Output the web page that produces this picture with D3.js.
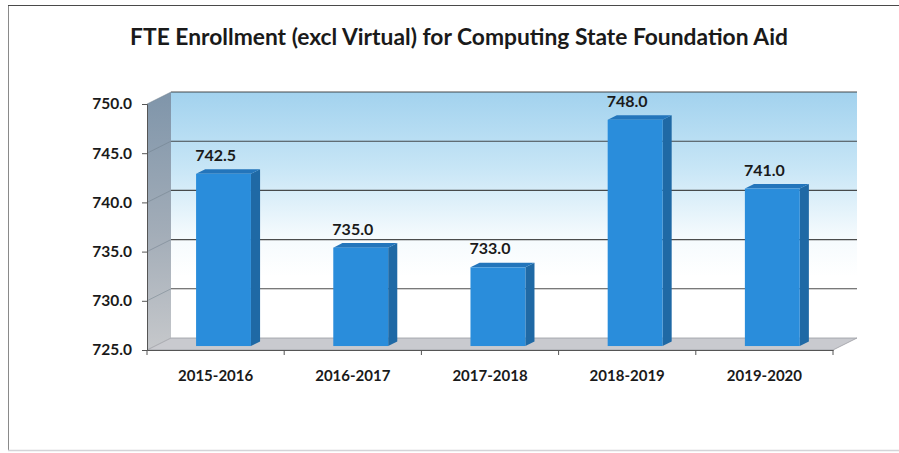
<!DOCTYPE html>
<html>
<head>
<meta charset="utf-8">
<script src="https://cdn.jsdelivr.net/npm/d3@7"></script>
<style>
  html, body { margin: 0; padding: 0; background: #ffffff; }
  svg { display: block; }
  text { font-family: Lato, "Open Sans", sans-serif; fill: #1a1a1a; }
</style>
</head>
<body>
<svg id="chart" width="899" height="453"></svg>
<script>
// Enrollment by school year
const categories = ["2015-2016", "2016-2017", "2017-2018", "2018-2019", "2019-2020"];
const enrollment = [742.5, 735.0, 733.0, 748.0, 741.0];
const yTicks = [725, 730, 735, 740, 745, 750];
const chartTitle = "FTE Enrollment (excl Virtual) for Computing State Foundation Aid";

(function draw() {
const svg = d3.select("#chart");
const W = 899, H = 453;

// Plot box (front plane) and 3D depth offset
const plotL = 147, plotR = 833, plotT = 104, plotB = 350;
const depthX = 24, depthY = -12;
// Bars sit between these fractions of the depth
const barFront = 0.33, barBack = 0.71;

const x = d3.scaleBand().domain(categories).range([plotL, plotR]);
const y = d3.scaleLinear().domain([725, 750]).range([plotB, plotT]);
const fmt = d3.format(".1f");

const defs = svg.append("defs");
const wallGrad = defs.append("linearGradient").attr("id", "wallGrad")
  .attr("x1", 0).attr("y1", 0).attr("x2", 0).attr("y2", 1);
wallGrad.append("stop").attr("offset", "0%").attr("stop-color", "#a2d2ee");
wallGrad.append("stop").attr("offset", "30%").attr("stop-color", "#c6e5f6");
wallGrad.append("stop").attr("offset", "58%").attr("stop-color", "#f4fafd");
wallGrad.append("stop").attr("offset", "75%").attr("stop-color", "#ffffff");

const sideGrad = defs.append("linearGradient").attr("id", "sideGrad")
  .attr("x1", 0).attr("y1", 0).attr("x2", 0).attr("y2", 1);
sideGrad.append("stop").attr("offset", "0%").attr("stop-color", "#7f95aa");
sideGrad.append("stop").attr("offset", "55%").attr("stop-color", "#a3adb8");
sideGrad.append("stop").attr("offset", "100%").attr("stop-color", "#c6c8cb");

// Outer frame
svg.append("rect")
  .attr("x", 8.5).attr("y", 5.5).attr("width", 900).attr("height", 445)
  .attr("fill", "#ffffff").attr("stroke", "#8a8a8a").attr("stroke-width", 1);
svg.append("line").attr("x1", 8).attr("x2", W).attr("y1", 5.5).attr("y2", 5.5)
  .attr("stroke", "#4a4a4a").attr("stroke-width", 1.2);
svg.append("line").attr("x1", 8).attr("x2", W).attr("y1", 450.5).attr("y2", 450.5)
  .attr("stroke", "#d4d4d8").attr("stroke-width", 1.5);

// Title
svg.append("text")
  .attr("x", 459).attr("y", 45)
  .attr("text-anchor", "middle")
  .style("font-size", "22.8px").style("font-weight", "bold")
  .text(chartTitle);

const pt = (px, py) => px + "," + py;

// Back wall
svg.append("polygon")
  .attr("points", [pt(plotL + depthX, plotT + depthY), pt(plotR + depthX, plotT + depthY),
                   pt(plotR + depthX, plotB + depthY), pt(plotL + depthX, plotB + depthY)].join(" "))
  .attr("fill", "url(#wallGrad)");

// Left side wall
svg.append("polygon")
  .attr("points", [pt(plotL, plotT), pt(plotL + depthX, plotT + depthY),
                   pt(plotL + depthX, plotB + depthY), pt(plotL, plotB)].join(" "))
  .attr("fill", "url(#sideGrad)");

// Floor
svg.append("polygon")
  .attr("points", [pt(plotL, plotB), pt(plotR, plotB),
                   pt(plotR + depthX, plotB + depthY), pt(plotL + depthX, plotB + depthY)].join(" "))
  .attr("fill", "#c9cacf").attr("stroke", "#9a9ca2").attr("stroke-width", 0.8);

// Gridlines on back wall and side wall
const grid = svg.append("g");
yTicks.forEach(t => {
  if (t === 725) return;
  grid.append("line")
    .attr("x1", plotL + depthX).attr("x2", plotR + depthX)
    .attr("y1", y(t) + depthY).attr("y2", y(t) + depthY)
    .attr("stroke", "#2e2e2e").attr("stroke-width", 1.1).attr("opacity", 0.85);
  grid.append("line")
    .attr("x1", plotL).attr("x2", plotL + depthX)
    .attr("y1", y(t)).attr("y2", y(t) + depthY)
    .attr("stroke", "#6f7d8a").attr("stroke-width", 0.8).attr("opacity", 0.6);
});

// Bars
const bw = x.bandwidth();
const barW = bw * 0.4;
const fx = depthX * barFront, fy = depthY * barFront;
const dX = depthX * (barBack - barFront), dY = depthY * (barBack - barFront);

const bars = svg.append("g").selectAll("g")
  .data(categories.map((c, i) => ({ cat: c, val: enrollment[i] })))
  .join("g");

bars.each(function(d) {
  const g = d3.select(this);
  const x0 = x(d.cat) + (bw - barW) / 2 + fx;
  const x1 = x0 + barW;
  const yT = y(d.val) + fy;
  const yB = y(725) + fy;
  // side face
  g.append("polygon")
    .attr("points", [pt(x1, yT), pt(x1 + dX, yT + dY), pt(x1 + dX, yB + dY), pt(x1, yB)].join(" "))
    .attr("fill", "#1f69a5");
  // top face
  g.append("polygon")
    .attr("points", [pt(x0, yT), pt(x1, yT), pt(x1 + dX, yT + dY), pt(x0 + dX, yT + dY)].join(" "))
    .attr("fill", "#2375bb");
  // front face
  g.append("rect")
    .attr("x", x0).attr("y", yT).attr("width", barW).attr("height", yB - yT)
    .attr("fill", "#2a8ddb");
  // value label
  g.append("text")
    .attr("x", x(d.cat) + bw / 2)
    .attr("y", yT - 13)
    .attr("text-anchor", "middle")
    .style("font-size", "16px").style("font-weight", "bold")
    .text(fmt(d.val));
});

// Y axis
const yAxis = svg.append("g").attr("transform", `translate(${plotL},0)`)
  .call(d3.axisLeft(y).tickValues(yTicks).tickFormat(fmt).tickSize(5).tickPadding(10));
yAxis.select(".domain").attr("stroke", "#555").attr("stroke-width", 1);
yAxis.selectAll(".tick line").attr("stroke", "#555");
yAxis.selectAll(".tick text")
  .style("font-family", "Lato, sans-serif").style("font-size", "15.5px")
  .style("font-weight", "bold").attr("fill", "#1a1a1a");

// X axis
const xAxis = svg.append("g").attr("transform", `translate(0,${plotB})`)
  .call(d3.axisBottom(x).tickSize(0).tickPadding(20));
xAxis.select(".domain").attr("stroke", "#555").attr("stroke-width", 1);
xAxis.selectAll(".tick text")
  .style("font-family", "Lato, sans-serif").style("font-size", "15px")
  .style("font-weight", "bold").attr("fill", "#1a1a1a");
// Category boundary ticks
const bounds = categories.map(c => x(c)).concat([plotR]);
xAxis.selectAll(".bound").data(bounds).join("line")
  .attr("class", "bound")
  .attr("x1", d => d).attr("x2", d => d)
  .attr("y1", 0).attr("y2", 5)
  .attr("stroke", "#555");
})();
</script>
</body>
</html>
